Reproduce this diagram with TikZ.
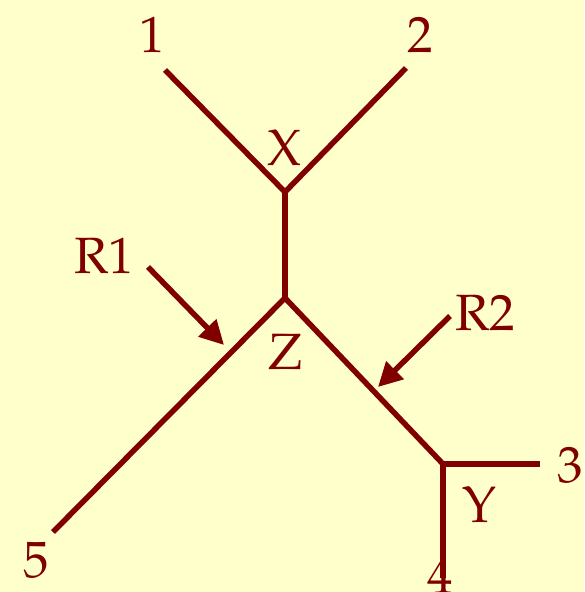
\documentclass[tikz,border=0pt]{standalone}
\usepackage{fontspec}
\setmainfont{TeX Gyre Pagella}
\usetikzlibrary{arrows.meta}
\definecolor{bg}{HTML}{FFFFCC}
\definecolor{ink}{HTML}{800000}
\begin{document}
\begin{tikzpicture}[x=1pt,y=-1pt,
  edge/.style={draw=ink,line width=5.5pt},
  pointer/.style={draw=ink,line width=5.5pt,-{Triangle[length=24pt,width=24pt]}},
  lbl/.style={text=ink,font=\fontsize{51}{55}\selectfont,inner sep=0pt}]
\fill[bg] (0,0) rectangle (584,592);
\useasboundingbox (0,0) rectangle (584,592);
\coordinate (l1) at (165,70);
\coordinate (l2) at (406,68);
\coordinate (X) at (285,192);
\coordinate (Z) at (285,298);
\coordinate (l5) at (53,532);
\coordinate (Y) at (443,464);
\coordinate (l3) at (540,464);
\coordinate (l4) at (443,578);
\draw[edge,line join=miter] (l1) -- (X) -- (l2);
\draw[edge] (X) -- (Z);
\draw[edge] (l5) -- (Z) -- (Y);
\draw[edge,line join=miter] (l4) -- (Y) -- (l3);
\coordinate (r1s) at (148,267);
\coordinate (r1e) at (224,345);
\coordinate (r2s) at (450,316);
\coordinate (r2e) at (378,387);
\draw[pointer] (r1s) -- (r1e);
\draw[pointer] (r2s) -- (r2e);
\node[lbl] (t1) at (152,35) {1};
\node[lbl] (t2) at (420,35) {2};
\node[lbl] (tX) at (285,148) {X};
\node[lbl] (tR1) at (104,256) {R1};
\node[lbl] (tZ) at (286,352) {Z};
\node[lbl] (tR2) at (485,313) {R2};
\node[lbl] (t3) at (570,465) {3};
\node[lbl] (tY) at (480,505) {Y};
\node[lbl] (t5) at (36,560) {5};
\node[lbl] (t4) at (440,576) {4};
\end{tikzpicture}
\end{document}
